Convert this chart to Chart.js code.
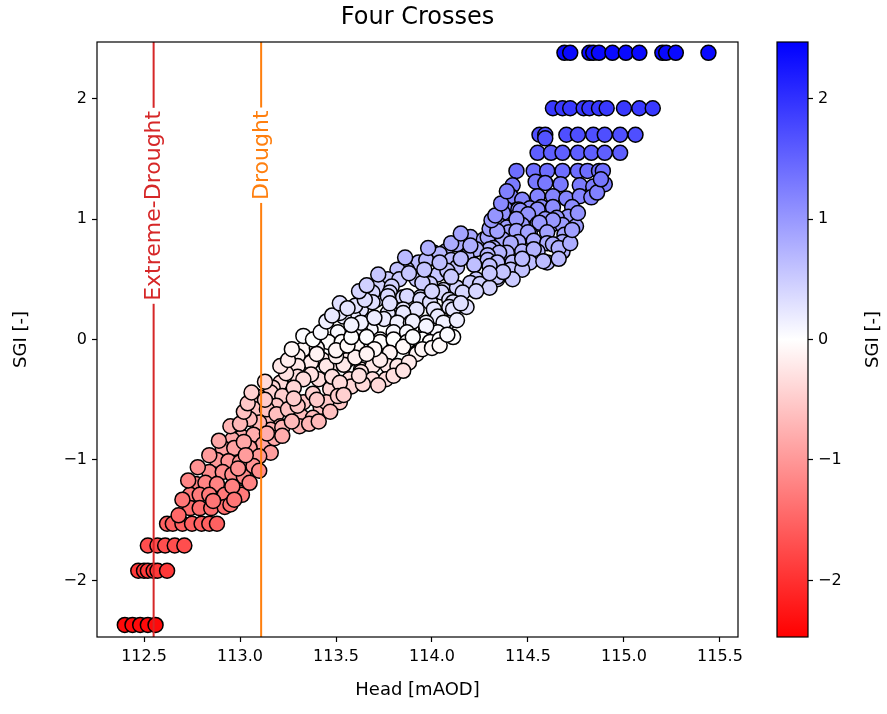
<!DOCTYPE html>
<html>
<head>
<meta charset="utf-8">
<script src="https://cdn.jsdelivr.net/npm/chart.js@4.4.1/dist/chart.umd.min.js"></script>
<style>
  html, body { margin: 0; padding: 0; background: #fff; }
  #wrap { position: relative; width: 887px; height: 714px; }
  #main { position: absolute; left: 0; top: 0; }
  #cbar { position: absolute; left: 740px; top: 0; }
</style>
</head>
<body>
<div id="wrap">
  <canvas id="main" width="887" height="714"></canvas>
  <canvas id="cbar" width="147" height="714"></canvas>
</div>
<script>
// groundwater head (mAOD) and standardised groundwater index
const headX = [
  114.69, 114.72, 114.82, 114.84, 114.87, 114.94, 115.01, 115.08, 115.20, 115.22, 115.27, 115.44,
  114.63, 114.68, 114.72, 114.79, 114.82, 114.87, 114.91, 115.00, 115.08, 115.15,
  114.56, 114.59, 114.70, 114.76, 114.84, 114.90, 114.98, 115.06, 114.59,
  114.55, 114.62, 114.68, 114.76, 114.83, 114.90, 114.98,
  114.44, 114.53, 114.60, 114.68, 114.76, 114.81, 114.87, 114.89,
  114.42, 114.54, 114.59, 114.67, 114.77, 114.84, 114.90,
  114.41, 114.47, 114.55, 114.63, 114.70, 114.77, 114.83,
  114.38, 114.45, 114.51, 114.57, 114.63, 114.73, 114.71, 114.65, 114.37, 114.46, 114.55,
  114.35, 114.42, 114.50, 114.59, 114.47, 114.55, 114.62, 114.68, 114.75, 114.39, 114.63, 114.44, 114.56,
  114.40, 114.51, 114.60, 114.69, 114.44, 114.50, 114.20, 114.27,
  114.29, 114.37, 114.45, 114.53, 114.60, 114.68, 114.63, 114.41, 114.13, 114.32,
  114.30, 114.39, 114.47, 114.55, 114.68, 114.01, 114.07, 114.23, 114.53, 114.66, 114.35, 114.29, 114.18, 114.04,
  114.29, 114.34, 114.42, 114.51, 114.60, 114.58, 113.93, 113.97, 114.10, 114.22,
  114.41, 114.13, 114.30, 114.47, 113.87, 113.82, 114.03, 114.23, 114.42, 114.34, 114.29, 114.34, 114.37, 114.08,
  113.77, 113.83, 113.92, 113.99, 114.06, 114.13, 114.20, 114.25, 114.30, 113.72, 113.79, 114.16, 113.95,
  113.71, 113.78, 113.85, 113.94, 114.05, 114.09, 113.69, 113.87, 113.77, 114.11, 114.18, 113.94, 114.09,
  113.63, 113.69, 113.85, 113.92, 113.99, 114.01, 114.11, 113.78, 113.85, 113.59, 113.54, 113.77, 114.03, 114.08,
  113.75, 113.82, 113.89, 113.97, 114.06, 113.90, 113.97, 113.68, 114.03, 114.11, 113.63, 113.51, 113.52, 113.97, 113.60,
  113.73, 113.80, 113.87, 113.95, 113.46, 113.53, 113.73, 113.80, 113.87, 113.99, 113.85, 113.78, 113.92, 113.61, 113.33, 113.66, 114.04,
  113.30, 113.43, 113.37, 113.56, 113.47, 113.63, 113.69, 113.77, 113.82, 113.92, 113.95, 113.63, 113.45, 113.54, 113.30,
  113.25, 113.30, 113.41, 113.47, 113.57, 113.69, 113.76, 113.37, 113.48, 113.58, 113.64, 113.21, 113.33, 113.17, 113.24, 113.52,
  113.33, 113.42, 113.52, 113.26, 113.16, 113.22, 113.28, 113.45, 113.51, 113.54, 113.10, 113.15, 113.38, 113.19, 113.08,
  113.08, 113.14, 113.19, 113.25, 113.32, 113.38, 113.21, 113.31, 113.16, 113.22, 113.10, 113.05, 113.27,
  113.01, 113.07, 112.96, 113.12, 113.16, 112.91, 112.97, 113.05, 113.10, 113.02,
  112.88, 112.94, 113.00, 112.84, 112.91, 112.96, 113.02, 113.07,
  112.77, 112.82, 112.88, 112.92, 113.00, 112.74, 112.79, 112.84, 113.01, 112.96,
  112.74, 112.79, 112.85, 112.92,
  112.62, 112.65, 112.70, 112.75, 112.80, 112.84, 112.88,
  112.52, 112.57, 112.61, 112.66, 112.71,
  112.47, 112.50, 112.52, 112.55, 112.57, 112.62,
  112.40, 112.44, 112.48, 112.52, 112.56,
  112.68, 112.95, 112.70, 112.86, 112.97, 113.05, 112.73, 112.78, 113.10, 112.99, 112.84, 113.03,
  112.89, 113.18, 113.22, 113.14, 112.95, 113.00, 113.36, 113.41, 113.02, 113.47, 113.30, 113.04,
  113.06, 113.28, 113.40, 113.13, 113.13, 113.80, 113.72, 113.62,
  113.21, 113.25, 113.88, 113.85, 113.73, 113.50, 113.60,
  113.27, 113.40, 113.50, 113.70, 114.00, 114.04, 113.56, 113.40, 113.66,
  113.33, 113.38, 113.42, 113.58, 114.08, 113.90,
  113.45, 113.48, 113.63, 113.70, 114.13, 113.58,
  113.52, 113.56, 113.78, 114.15, 113.65, 113.62, 113.66, 114.23, 114.00,
  113.72, 113.88, 114.10, 114.30, 113.96, 113.86, 114.04, 114.15, 114.66, 114.47,
  113.98, 114.10, 114.20, 114.72, 114.15, 114.30, 114.34, 114.73,
  114.31, 114.33, 114.76, 114.36, 114.39, 114.86, 114.88
];
const sgi = [
  2.38, 2.38, 2.38, 2.38, 2.38, 2.38, 2.38, 2.38, 2.38, 2.38, 2.38, 2.38,
  1.92, 1.92, 1.92, 1.92, 1.92, 1.92, 1.92, 1.92, 1.92, 1.92,
  1.70, 1.70, 1.70, 1.70, 1.70, 1.70, 1.70, 1.70, 1.67,
  1.55, 1.55, 1.55, 1.55, 1.55, 1.55, 1.55,
  1.40, 1.40, 1.40, 1.40, 1.40, 1.40, 1.40, 1.40,
  1.28, 1.31, 1.30, 1.29, 1.28, 1.27, 1.29,
  1.19, 1.16, 1.19, 1.19, 1.17, 1.19, 1.18,
  1.09, 1.08, 1.09, 1.10, 1.10, 1.10, 1.02, 1.01, 1.05, 1.07, 1.08,
  0.95, 0.94, 1.04, 1.00, 0.95, 0.96, 0.95, 0.95, 0.94, 0.93, 0.99, 1.00, 0.97,
  0.89, 0.88, 0.89, 0.87, 0.90, 0.89, 0.85, 0.83,
  0.85, 0.83, 0.81, 0.82, 0.80, 0.81, 0.79, 0.80, 0.79, 0.76,
  0.75, 0.72, 0.73, 0.73, 0.73, 0.72, 0.73, 0.75, 0.75, 0.76, 0.72, 0.70, 0.69, 0.71,
  0.66, 0.64, 0.64, 0.64, 0.64, 0.65, 0.64, 0.66, 0.66, 0.62,
  0.58, 0.60, 0.61, 0.58, 0.58, 0.58, 0.54, 0.50, 0.50, 0.50, 0.47, 0.52, 0.56, 0.57,
  0.50, 0.50, 0.50, 0.46, 0.41, 0.43, 0.47, 0.46, 0.43, 0.44, 0.44, 0.39, 0.47,
  0.33, 0.39, 0.35, 0.35, 0.39, 0.33, 0.39, 0.36, 0.36, 0.31, 0.27, 0.33, 0.27,
  0.25, 0.31, 0.25, 0.25, 0.31, 0.25, 0.25, 0.23, 0.22, 0.19, 0.19, 0.22, 0.19, 0.14,
  0.17, 0.14, 0.14, 0.14, 0.14, 0.15, 0.08, 0.08, 0.06, 0.02, 0.06, 0.06, 0.22, 0.11, 0.28,
  0.00, 0.06, 0.06, 0.00, -0.02, -0.02, -0.02, 0.00, -0.02, -0.02, -0.06, -0.11, -0.11, -0.06, -0.08, 0.02, 0.00,
  -0.14, -0.17, -0.19, -0.17, -0.23, -0.25, -0.22, -0.22, -0.22, -0.12, -0.08, -0.27, -0.22, -0.21, -0.22,
  -0.41, -0.31, -0.33, -0.41, -0.33, -0.33, -0.33, -0.29, -0.31, -0.39, -0.37, -0.36, -0.33, -0.40, -0.28, -0.36,
  -0.52, -0.56, -0.52, -0.58, -0.44, -0.47, -0.40, -0.52, -0.47, -0.46, -0.48, -0.64, -0.45, -0.55, -0.47,
  -0.58, -0.58, -0.62, -0.58, -0.64, -0.65, -0.72, -0.72, -0.75, -0.73, -0.69, -0.66, -0.68,
  -0.81, -0.79, -0.83, -0.87, -0.94, -0.90, -0.90, -0.90, -0.97, -0.85,
  -1.00, -1.01, -1.02, -1.10, -1.10, -1.12, -1.14, -1.05,
  -1.20, -1.19, -1.20, -1.29, -1.27, -1.29, -1.29, -1.29, -1.29, -1.22,
  -1.40, -1.40, -1.40, -1.39,
  -1.53, -1.53, -1.53, -1.53, -1.53, -1.53, -1.53,
  -1.71, -1.71, -1.71, -1.71, -1.71,
  -1.92, -1.92, -1.92, -1.92, -1.92, -1.92,
  -2.37, -2.37, -2.37, -2.37, -2.37,
  -1.46, -1.37, -1.33, -1.34, -1.33, -1.19, -1.17, -1.06, -1.09, -1.07, -0.96, -0.96,
  -0.84, -0.82, -0.80, -0.78, -0.72, -0.70, -0.70, -0.68, -0.60, -0.60, -0.55, -0.53,
  -0.44, -0.49, -0.50, -0.50, -0.35, -0.30, -0.38, -0.30,
  -0.22, -0.17, -0.19, -0.26, -0.17, -0.14, -0.15,
  -0.08, -0.07, -0.09, -0.08, -0.07, -0.05, -0.05, -0.12, -0.12,
  0.03, 0.00, 0.06, 0.02, 0.04, 0.02,
  0.15, 0.20, 0.14, 0.18, 0.16, 0.12,
  0.30, 0.26, 0.30, 0.30, 0.33, 0.40, 0.45, 0.40, 0.40,
  0.54, 0.55, 0.52, 0.55, 0.58, 0.68, 0.64, 0.67, 0.67, 0.67,
  0.76, 0.80, 0.78, 0.80, 0.88, 0.92, 0.90, 0.91,
  0.99, 1.03, 1.05, 1.13, 1.23, 1.22, 1.33
];
const headTicks = [112.5, 113.0, 113.5, 114.0, 114.5, 115.0, 115.5];
const sgiTicks = [-2, -1, 0, 1, 2];
const thresholdNames = ['Extreme-Drought', 'Drought'];
const thresholdHead = [112.55, 113.11];
const thresholdColours = ['#d62728', '#ff7f0e'];
const labelSgi = [1.11, 1.53];

const sgiLimit = 2.47;
const font = "'DejaVu Sans', sans-serif";
Chart.defaults.font.family = font;
Chart.defaults.color = '#000';

// bwr_r colormap
function sgiColour(v) {
  const t = Math.max(-1, Math.min(1, v / sgiLimit));
  if (t < 0) {
    const c = Math.round(255 * (1 + t));
    return 'rgb(255,' + c + ',' + c + ')';
  }
  const c = Math.round(255 * (1 - t));
  return 'rgb(' + c + ',' + c + ',255)';
}
const minus = v => String(v).replace('-', '\u2212');

const points = headX.map((x, i) => ({ x: x, y: sgi[i] }));

const datasets = thresholdHead.map((h, i) => ({
  label: thresholdNames[i],
  data: [{ x: h, y: -sgiLimit }, { x: h, y: sgiLimit }],
  showLine: true,
  borderColor: thresholdColours[i],
  borderWidth: 2,
  pointRadius: 0,
  order: 0
}));
datasets.push({
  label: 'SGI',
  data: points,
  pointRadius: 7.5,
  pointBorderWidth: 1.5,
  pointBorderColor: '#000',
  pointBackgroundColor: sgi.map(sgiColour),
  order: 1
});

const lineLabels = {
  id: 'lineLabels',
  afterDatasetsDraw(chart) {
    const ctx = chart.ctx;
    const sx = chart.scales.x, sy = chart.scales.y;
    ctx.save();
    ctx.font = '22px ' + font;
    ctx.textAlign = 'center';
    ctx.textBaseline = 'middle';
    thresholdNames.forEach((name, i) => {
      const px = sx.getPixelForValue(thresholdHead[i]);
      const py = sy.getPixelForValue(labelSgi[i]);
      const w = ctx.measureText(name).width;
      ctx.save();
      ctx.translate(px, py);
      ctx.rotate(-Math.PI / 2);
      ctx.fillStyle = '#fff';
      ctx.fillRect(-w / 2 - 3, -4, w + 6, 8);
      ctx.fillStyle = thresholdColours[i];
      ctx.fillText(name, 0, 1);
      ctx.restore();
    });
    ctx.restore();
  }
};

// frame on all four sides plus the title centred over the axes
const frame = {
  id: 'frame',
  afterDraw(chart) {
    const a = chart.chartArea, ctx = chart.ctx;
    ctx.save();
    ctx.strokeStyle = '#000';
    ctx.lineWidth = 1.2;
    ctx.strokeRect(a.left, a.top, a.right - a.left, a.bottom - a.top);
    ctx.fillStyle = '#000';
    ctx.font = '24px ' + font;
    ctx.textAlign = 'center';
    ctx.textBaseline = 'middle';
    ctx.fillText('Four Crosses', (a.left + a.right) / 2, 18);
    ctx.restore();
  }
};

const tickGrid = { display: true, drawOnChartArea: false, drawTicks: true, tickLength: 5, tickColor: '#000', tickWidth: 1.2 };

new Chart(document.getElementById('main'), {
  type: 'scatter',
  data: { datasets: datasets },
  options: {
    responsive: false,
    animation: false,
    layout: { padding: { left: 0, right: 149, top: 42, bottom: 0 } },
    plugins: {
      legend: { display: false },
      tooltip: { enabled: false },
      title: { display: false }
    },
    scales: {
      x: {
        type: 'linear',
        min: 112.255,
        max: 115.594,
        afterBuildTicks: s => { s.ticks = headTicks.map(v => ({ value: v })); },
        afterFit: s => { s.height = 77; },
        ticks: { font: { size: 16 }, padding: 5, maxRotation: 0, autoSkip: false, callback: v => v.toFixed(1) },
        grid: tickGrid,
        border: { display: false },
        title: { display: true, text: 'Head [mAOD]', font: { size: 18 }, padding: { top: 0, bottom: 13 } }
      },
      y: {
        min: -sgiLimit,
        max: sgiLimit,
        afterBuildTicks: s => { s.ticks = sgiTicks.map(v => ({ value: v })); },
        afterFit: s => { s.width = 97; },
        ticks: { font: { size: 16 }, padding: 5, callback: v => minus(v) },
        grid: tickGrid,
        border: { display: false },
        title: { display: true, text: 'SGI [-]', font: { size: 18 }, padding: { top: 11, bottom: 0 } }
      }
    }
  },
  plugins: [lineLabels, frame]
});

const colourBar = {
  id: 'colourBar',
  beforeDatasetsDraw(chart) {
    const a = chart.chartArea, ctx = chart.ctx;
    const g = ctx.createLinearGradient(0, a.bottom, 0, a.top);
    g.addColorStop(0, sgiColour(-sgiLimit));
    g.addColorStop(0.5, sgiColour(0));
    g.addColorStop(1, sgiColour(sgiLimit));
    ctx.save();
    ctx.fillStyle = g;
    ctx.fillRect(a.left, a.top, a.right - a.left, a.bottom - a.top);
    ctx.strokeStyle = '#000';
    ctx.lineWidth = 1.2;
    ctx.strokeRect(a.left, a.top, a.right - a.left, a.bottom - a.top);
    ctx.translate(133, (a.top + a.bottom) / 2);
    ctx.rotate(-Math.PI / 2);
    ctx.fillStyle = '#000';
    ctx.font = '18px ' + font;
    ctx.textAlign = 'center';
    ctx.textBaseline = 'middle';
    ctx.fillText('SGI [-]', 0, 0);
    ctx.restore();
  }
};

new Chart(document.getElementById('cbar'), {
  type: 'scatter',
  data: { datasets: [] },
  options: {
    responsive: false,
    animation: false,
    layout: { padding: { left: 37, right: 0, top: 42, bottom: 77 } },
    plugins: { legend: { display: false }, tooltip: { enabled: false } },
    scales: {
      x: { display: false },
      y: {
        position: 'right',
        min: -sgiLimit,
        max: sgiLimit,
        afterBuildTicks: s => { s.ticks = sgiTicks.map(v => ({ value: v })); },
        afterFit: s => { s.width = 79; },
        ticks: { font: { size: 16 }, padding: 5, callback: v => minus(v) },
        grid: tickGrid,
        border: { display: false }
      }
    }
  },
  plugins: [colourBar]
});
</script>
</body>
</html>
